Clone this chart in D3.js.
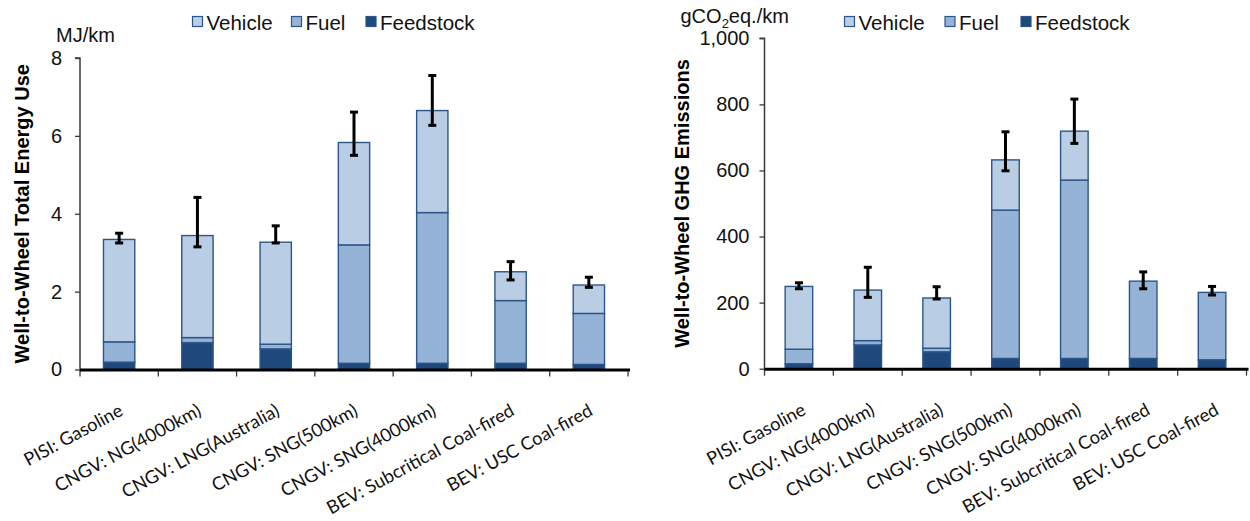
<!DOCTYPE html>
<html>
<head>
<meta charset="utf-8">
<script src="https://cdn.jsdelivr.net/npm/d3@7"></script>
<style>
  html, body { margin: 0; padding: 0; background: #fff; }
  svg { display: block; }
</style>
</head>
<body>
<svg id="chart" width="1250" height="521"></svg>
<script>
// ---------------- DATA ----------------
const categories = [
  "PISI: Gasoline",
  "CNGV: NG(4000km)",
  "CNGV: LNG(Australia)",
  "CNGV: SNG(500km)",
  "CNGV: SNG(4000km)",
  "BEV: Subcritical Coal-fired",
  "BEV: USC Coal-fired"
];
const seriesNames = ["Vehicle", "Fuel", "Feedstock"];

// Energy use, MJ/km (stack segments)
const energyFeedstock = [0.19, 0.69, 0.53, 0.16, 0.16, 0.16, 0.13];
const energyFuel      = [0.52, 0.13, 0.12, 3.04, 3.87, 1.61, 1.31];
const energyVehicle   = [2.63, 2.62, 2.62, 2.63, 2.62, 0.74, 0.73];
const energyErrLow    = [3.25, 3.15, 3.25, 5.50, 6.27, 2.30, 2.11];
const energyErrHigh   = [3.50, 4.42, 3.69, 6.61, 7.55, 2.77, 2.37];
const energyTicks     = [0, 2, 4, 6, 8];

// GHG emissions, gCO2eq./km (stack segments)
const ghgFeedstock = [15, 72, 51, 31, 31, 31, 27];
const ghgFuel      = [44, 13, 11, 449, 540, 234, 204];
const ghgVehicle   = [190, 153, 152, 152, 148, 0, 0];
const ghgErrLow    = [242, 216, 211, 599, 682, 242, 223];
const ghgErrHigh   = [260, 307, 248, 717, 816, 293, 249];
const ghgTicks     = [0, 200, 400, 600, 800, 1000];

// ---------------- STYLE ----------------
const colors = { Vehicle: "#b9cde5", Fuel: "#95b3d7", Feedstock: "#1f497d" };
const barStroke = "#2c5689";
const fontMain = "'Liberation Sans', Arial, sans-serif";
const fontCat = "Lato, 'Open Sans', sans-serif";

const svg = d3.select("#chart");

function drawPanel(opt) {
  const g = svg.append("g");
  const x = d3.scaleBand()
    .domain(categories)
    .range([opt.x0, opt.x1])
    .paddingInner(0.6)
    .paddingOuter(0.3);
  const y = d3.scaleLinear().domain([0, opt.max]).range([opt.y0, opt.yTop]);

  const rows = categories.map((c, i) => ({
    cat: c,
    Feedstock: opt.feed[i],
    Fuel: opt.fuel[i],
    Vehicle: opt.veh[i],
    lo: opt.lo[i],
    hi: opt.hi[i]
  }));
  const stack = d3.stack().keys(["Feedstock", "Fuel", "Vehicle"]);
  const layers = stack(rows);

  // y axis
  const yAxis = d3.axisLeft(y).tickValues(opt.ticks).tickSize(5).tickPadding(opt.tickPad)
    .tickFormat(opt.fmt);
  const ya = g.append("g").attr("transform", `translate(${opt.x0},0)`).call(yAxis);
  ya.select(".domain").attr("stroke", "#3a3a3a").attr("stroke-width", 1.5)
    .attr("d", `M-5,${y(opt.max)}H0V${opt.y0}`);
  ya.selectAll(".tick line").attr("stroke", "#3a3a3a").attr("stroke-width", 1.3);
  ya.selectAll(".tick text").attr("font-family", fontMain).attr("font-size", 20).attr("fill", "#111");

  // bars
  layers.forEach(layer => {
    g.append("g").selectAll("rect").data(layer).join("rect")
      .attr("x", d => x(d.data.cat))
      .attr("width", x.bandwidth())
      .attr("y", d => y(d[1]))
      .attr("height", d => Math.max(0, y(d[0]) - y(d[1])))
      .attr("fill", colors[layer.key])
      .attr("stroke", barStroke)
      .attr("stroke-width", 1.4);
  });

  // error bars
  const eb = g.append("g").selectAll("g").data(rows).join("g")
    .attr("stroke", "#000").attr("stroke-width", 3);
  eb.append("line")
    .attr("x1", d => x(d.cat) + x.bandwidth() / 2)
    .attr("x2", d => x(d.cat) + x.bandwidth() / 2)
    .attr("y1", d => y(d.lo)).attr("y2", d => y(d.hi));
  ["lo", "hi"].forEach(k => {
    eb.append("line")
      .attr("x1", d => x(d.cat) + x.bandwidth() / 2 - 4)
      .attr("x2", d => x(d.cat) + x.bandwidth() / 2 + 4)
      .attr("y1", d => y(d[k])).attr("y2", d => y(d[k]));
  });

  // x axis
  const step = x.step();
  const bounds = d3.range(categories.length + 1).map(i => opt.x0 + i * step);
  g.append("g").selectAll("line").data(bounds).join("line")
    .attr("x1", d => d).attr("x2", d => d)
    .attr("y1", opt.y0).attr("y2", opt.y0 + 7)
    .attr("stroke", "#3a3a3a").attr("stroke-width", 1.3);
  g.append("line")
    .attr("x1", opt.x0).attr("x2", opt.x1 + 2)
    .attr("y1", opt.y0 + 0.5).attr("y2", opt.y0 + 0.5)
    .attr("stroke", "#000").attr("stroke-width", 3);

  // category labels
  g.append("g").selectAll("text").data(categories).join("text")
    .attr("transform", c => `translate(${x(c) + x.bandwidth() / 2 + opt.labDx},${opt.y0 + 45}) rotate(-28.5)`)
    .attr("text-anchor", "end")
    .attr("font-family", fontCat)
    .attr("font-size", 18.2)
    .attr("fill", "#111")
    .text(c => c);

  // y title
  g.append("text")
    .attr("transform", `translate(${opt.titleX},${(opt.y0 + opt.yTop) / 2}) rotate(-90)`)
    .attr("text-anchor", "middle")
    .attr("font-family", fontMain)
    .attr("font-weight", "bold")
    .attr("font-size", 20)
    .attr("fill", "#000")
    .text(opt.title);

  // unit
  const u = g.append("text")
    .attr("x", opt.unitX).attr("y", opt.unitY)
    .attr("font-family", fontMain).attr("font-size", 20).attr("fill", "#111");
  opt.unit.forEach(p => {
    const t = u.append("tspan").text(p.t);
    if (p.sub) t.attr("font-size", 13).attr("dy", 5);
    else if (p.after) t.attr("dy", -5);
  });

  // legend
  const lg = g.append("g");
  seriesNames.forEach((s, i) => {
    const lx = opt.legX[i];
    lg.append("rect")
      .attr("x", lx).attr("y", 16.5).attr("width", 10).attr("height", 10)
      .attr("fill", colors[s]).attr("stroke", barStroke).attr("stroke-width", 1.2);
    lg.append("text")
      .attr("x", lx + 14).attr("y", 30)
      .attr("font-family", fontMain).attr("font-size", 20.5).attr("fill", "#111")
      .text(s);
  });
}

drawPanel({
  x0: 80, x1: 628, y0: 369.5, yTop: 58, max: 8,
  feed: energyFeedstock, fuel: energyFuel, veh: energyVehicle,
  lo: energyErrLow, hi: energyErrHigh, ticks: energyTicks,
  fmt: d3.format("d"), tickPad: 13, labDx: 5,
  title: "Well-to-Wheel Total Energy Use", titleX: 29,
  unit: [{ t: "MJ/km" }], unitX: 56, unitY: 41.7,
  legX: [192.5, 291.5, 366]
});

drawPanel({
  x0: 764.5, x1: 1246.5, y0: 368.7, yTop: 38.3, max: 1000,
  feed: ghgFeedstock, fuel: ghgFuel, veh: ghgVehicle,
  lo: ghgErrLow, hi: ghgErrHigh, ticks: ghgTicks,
  fmt: d3.format(","), tickPad: 10, labDx: 8,
  title: "Well-to-Wheel GHG Emissions", titleX: 689,
  unit: [{ t: "gCO" }, { t: "2", sub: true }, { t: "eq./km", after: true }],
  unitX: 680.5, unitY: 22.7,
  legX: [844.5, 945, 1021]
});
</script>
</body>
</html>
